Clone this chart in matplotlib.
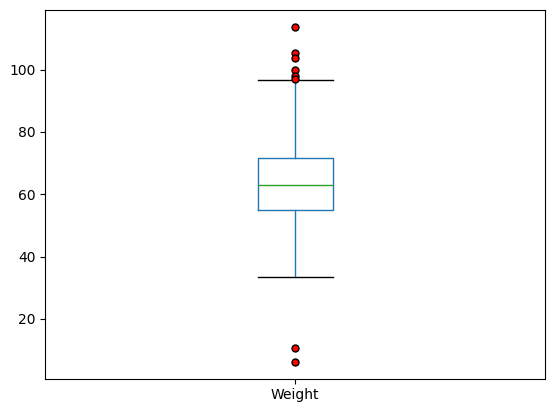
import matplotlib
matplotlib.use("Agg")
import matplotlib.pyplot as plt

label = "Weight"
q1, med, q3 = 54.9, 62.9, 71.8
whislo, whishi = 33.4, 96.8
fliers = [113.8, 105.4, 103.8, 100.0, 98.0, 97.1, 10.7, 6.2]

fig, ax = plt.subplots(figsize=(5.52, 4.13), dpi=100)
fig.subplots_adjust(left=0.082, right=0.987, top=0.976, bottom=0.083)
stats = [dict(label=label, q1=q1, med=med, q3=q3, whislo=whislo, whishi=whishi, fliers=fliers)]
ax.bxp(stats, positions=[1], widths=0.15, capwidths=0.15,
       boxprops=dict(color="C0"), whiskerprops=dict(color="C0"),
       capprops=dict(color="k"), medianprops=dict(color="C2"),
       flierprops=dict(marker="o", markerfacecolor="red", markeredgecolor="black", markersize=5))
ax.set_xlim(0.5, 1.5)
fig.savefig("out.png")
